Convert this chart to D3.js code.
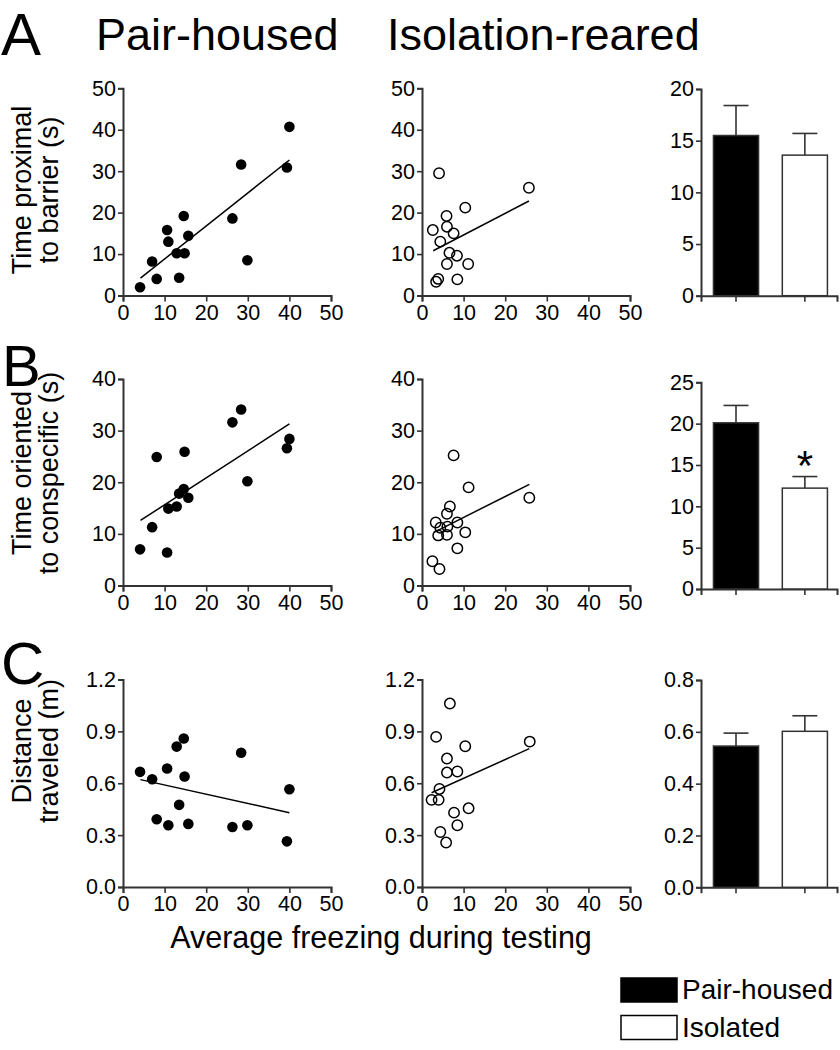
<!DOCTYPE html>
<html><head><meta charset="utf-8">
<script src="https://cdn.jsdelivr.net/npm/d3@7"></script>
<style>body{margin:0;background:#fff}svg{display:block}text{font-family:"Liberation Sans",Arial,sans-serif;fill:#000}</style>
</head><body><svg id="c" width="840" height="1050"></svg>
<script>
// ---- data ----
const groups = ["Pair-housed", "Isolated"];
const pairFreezing = [4.1, 7.0, 8.1, 10.6, 10.9, 12.9, 13.5, 14.8, 14.6, 15.7, 26.3, 28.4, 29.9, 39.4, 40.0];
const pairProximal = [2.0, 8.2, 4.0, 15.8, 13.0, 10.2, 4.3, 10.2, 19.2, 14.4, 18.6, 31.6, 8.5, 30.9, 40.7];
const pairOriented = [7.0, 11.3, 24.9, 6.4, 14.9, 15.3, 17.8, 25.9, 18.7, 17.0, 31.6, 34.1, 20.2, 26.6, 28.4];
const pairDistance = [0.666, 0.623, 0.392, 0.685, 0.357, 0.812, 0.475, 0.639, 0.859, 0.365, 0.347, 0.776, 0.357, 0.264, 0.565];
const isoProxX = [2.6, 3.4, 3.9, 4.1, 4.4, 5.9, 6.0, 6.0, 6.6, 7.6, 8.4, 8.5, 10.4, 11.1, 25.7];
const isoProxY = [15.8, 3.3, 4.0, 29.5, 13.0, 19.2, 16.6, 7.6, 10.3, 15.0, 9.6, 3.9, 21.2, 7.6, 26.0];
const isoOrientX = [2.5, 3.3, 3.9, 4.2, 4.4, 6.0, 6.0, 6.1, 6.7, 7.6, 8.5, 8.5, 10.4, 11.2, 25.8];
const isoOrientY = [4.7, 12.2, 9.7, 3.2, 11.2, 9.8, 13.9, 11.4, 15.3, 25.2, 12.2, 7.2, 10.3, 19.0, 17.0];
const isoDistX = [2.3, 3.4, 4.0, 4.2, 4.4, 5.8, 6.0, 6.0, 6.7, 7.7, 8.5, 8.5, 10.4, 11.2, 25.9];
const isoDistY = [0.504, 0.868, 0.504, 0.567, 0.318, 0.257, 0.743, 0.662, 1.061, 0.430, 0.357, 0.668, 0.814, 0.455, 0.841];
// regression line endpoints
const fitPairProxX = [4.2, 40], fitPairProxY = [4.2, 32.7];
const fitPairOrientX = [4.2, 40], fitPairOrientY = [12.6, 31.3];
const fitPairDistX = [4.2, 40], fitPairDistY = [0.621, 0.430];
const fitIsoProxX = [2.7, 25.7], fitIsoProxY = [10.8, 22.8];
const fitIsoOrientX = [2.9, 25.8], fitIsoOrientY = [10.3, 19.6];
const fitIsoDistX = [2.3, 25.8], fitIsoDistY = [0.545, 0.80];
// bar means and SEM
const proxMean = [15.5, 13.6], proxSEM = [2.9, 2.1];
const orientMean = [20.1, 12.2], orientSEM = [2.1, 1.4];
const distMean = [0.545, 0.602], distSEM = [0.05, 0.06];
const xTicks = [0, 10, 20, 30, 40, 50];
const proxTicks = [0, 10, 20, 30, 40, 50], proxBarTicks = [0, 5, 10, 15, 20];
const orientTicks = [0, 10, 20, 30, 40], orientBarTicks = [0, 5, 10, 15, 20, 25];
const distTicks = [0, 0.3, 0.6, 0.9, 1.2], distBarTicks = [0, 0.2, 0.4, 0.6, 0.8];

// ---- drawing ----
const svg = d3.select("#c");
const AX = "#333";
function styleAxis(g){
  g.selectAll("path.domain").attr("stroke", AX).attr("stroke-width", 2);
  g.selectAll(".tick line").attr("stroke", AX).attr("stroke-width", 1.6);
  g.selectAll(".tick text").attr("font-size", 21.5).attr("font-family", '"Liberation Sans",Arial,sans-serif').attr("fill", "#000");
}
function scatter(o){
  const x = d3.scaleLinear().domain([0, 50]).range([o.x0, o.x0 + 208]);
  const y = d3.scaleLinear().domain([0, o.ymax]).range([o.y0, o.ytop]);
  const gx = svg.append("g").attr("transform", `translate(0,${o.y0})`)
    .call(d3.axisBottom(x).tickValues(xTicks).tickSizeOuter(0).tickSize(6).tickPadding(3));
  styleAxis(gx);
  const gy = svg.append("g").attr("transform", `translate(${o.x0},0)`)
    .call(d3.axisLeft(y).tickValues(o.ticks).tickFormat(o.fmt).tickSizeOuter(0).tickSize(5).tickPadding(2));
  styleAxis(gy);
  svg.append("line").attr("x1", x(o.fx[0])).attr("x2", x(o.fx[1]))
    .attr("y1", y(o.fy[0])).attr("y2", y(o.fy[1])).attr("stroke", "#000").attr("stroke-width", 1.5);
  const pts = o.xs.map((v, i) => [v, o.ys[i]]);
  svg.append("g").selectAll("circle").data(pts).join("circle")
    .attr("cx", d => x(d[0])).attr("cy", d => y(d[1]))
    .attr("r", o.filled ? 5.3 : 5.2)
    .attr("fill", o.filled ? "#000" : "none")
    .attr("stroke", "#000").attr("stroke-width", o.filled ? 0 : 1.5);
}
function bars(o){
  const x = d3.scaleBand().domain(groups).range([701, 837]).paddingInner(0.323).paddingOuter(0.149).align(0.57);
  const y = d3.scaleLinear().domain([0, o.ymax]).range([o.y0, o.ytop]);
  const gx = svg.append("g").attr("transform", `translate(0,${o.y0})`)
    .call(d3.axisBottom(x).tickSizeOuter(0).tickSize(6).tickFormat(""));
  styleAxis(gx);
  const gy = svg.append("g").attr("transform", `translate(701,0)`)
    .call(d3.axisLeft(y).tickValues(o.ticks).tickFormat(o.fmt).tickSizeOuter(0).tickSize(5).tickPadding(2));
  styleAxis(gy);
  const data = groups.map((g, i) => ({g, m: o.mean[i], s: o.sem[i], i}));
  const bw = x.bandwidth();
  svg.append("g").selectAll("g").data(data).join("g").each(function(d){
    const cx = x(d.g) + bw / 2, g = d3.select(this);
    g.append("line").attr("x1", cx).attr("x2", cx).attr("y1", y(d.m)).attr("y2", y(d.m + d.s))
      .attr("stroke", AX).attr("stroke-width", 1.6);
    g.append("line").attr("x1", cx - 12.5).attr("x2", cx + 12.5).attr("y1", y(d.m + d.s)).attr("y2", y(d.m + d.s))
      .attr("stroke", AX).attr("stroke-width", 1.6);
  });
  svg.append("g").selectAll("rect").data(data).join("rect")
    .attr("x", d => x(d.g) + 0.75).attr("width", bw - 1.5)
    .attr("y", d => y(d.m)).attr("height", d => o.y0 - y(d.m))
    .attr("fill", d => d.i === 0 ? "#000" : "#fff").attr("stroke", AX).attr("stroke-width", 1.5);
  if (o.star) {
    const d = data[1];
    svg.append("text").attr("x", x(d.g) + bw / 2).attr("y", y(d.m + d.s) + 3)
      .attr("text-anchor", "middle").attr("font-size", 42).text("*");
  }
}
const f0 = d3.format("d"), f1 = d3.format(".1f");
const rows = [
  {y0: 295.5, ytop: 88.3, ymax: 50, ticks: proxTicks, fmt: f0, px: pairFreezing, py: pairProximal, ix: isoProxX, iy: isoProxY,
   pfx: fitPairProxX, pfy: fitPairProxY, ifx: fitIsoProxX, ify: fitIsoProxY,
   by0: 295.7, bytop: 89, bmax: 20, bticks: proxBarTicks, mean: proxMean, sem: proxSEM, star: false},
  {y0: 585.5, ytop: 379, ymax: 40, ticks: orientTicks, fmt: f0, px: pairFreezing, py: pairOriented, ix: isoOrientX, iy: isoOrientY,
   pfx: fitPairOrientX, pfy: fitPairOrientY, ifx: fitIsoOrientX, ify: fitIsoOrientY,
   by0: 589, bytop: 382.3, bmax: 25, bticks: orientBarTicks, mean: orientMean, sem: orientSEM, star: true},
  {y0: 887, ytop: 679.5, ymax: 1.2, ticks: distTicks, fmt: f1, px: pairFreezing, py: pairDistance, ix: isoDistX, iy: isoDistY,
   pfx: fitPairDistX, pfy: fitPairDistY, ifx: fitIsoDistX, ify: fitIsoDistY,
   by0: 887.3, bytop: 680, bmax: 0.8, bticks: distBarTicks, mean: distMean, sem: distSEM, star: false}
];
rows.forEach(r => {
  scatter({x0: 123, y0: r.y0, ytop: r.ytop, ymax: r.ymax, ticks: r.ticks, fmt: r.fmt, xs: r.px, ys: r.py, fx: r.pfx, fy: r.pfy, filled: true});
  scatter({x0: 422, y0: r.y0, ytop: r.ytop, ymax: r.ymax, ticks: r.ticks, fmt: r.fmt, xs: r.ix, ys: r.iy, fx: r.ifx, fy: r.ify, filled: false});
  bars({y0: r.by0, ytop: r.bytop, ymax: r.bmax, ticks: r.bticks, fmt: r.fmt, mean: r.mean, sem: r.sem, star: r.star});
});

// headings & labels
svg.append("text").attr("x", 1).attr("y", 54.5).attr("font-size", 60).text("A");
svg.append("text").attr("x", 2).attr("y", 386).attr("font-size", 58).text("B");
svg.append("text").attr("x", 1).attr("y", 684).attr("font-size", 60).text("C");
svg.append("text").attr("x", 96).attr("y", 50).attr("font-size", 45).text("Pair-housed");
svg.append("text").attr("x", 387).attr("y", 50).attr("font-size", 45).text("Isolation-reared");
const yTitles = [
  {c: 190, l: ["Time proximal", "to barrier (s)"]},
  {c: 473, l: ["Time oriented", "to conspecific (s)"]},
  {c: 751, l: ["Distance", "traveled (m)"]}
];
yTitles.forEach(t => {
  t.l.forEach((s, i) => {
    svg.append("text").attr("transform", `translate(${i === 0 ? 31 : 58},${t.c}) rotate(-90)`)
      .attr("text-anchor", "middle").attr("font-size", 27).text(s);
  });
});
svg.append("text").attr("x", 381).attr("y", 948).attr("text-anchor", "middle").attr("font-size", 30.5).text("Average freezing during testing");
// legend
const leg = svg.append("g");
groups.forEach((g, i) => {
  leg.append("rect").attr("x", 621).attr("y", 978 + i * 37.5).attr("width", 56).attr("height", 24)
    .attr("fill", i === 0 ? "#000" : "#fff").attr("stroke", "#000").attr("stroke-width", 1.5);
  leg.append("text").attr("x", 682).attr("y", 999 + i * 38).attr("font-size", 28).text(g);
});
</script></body></html>
